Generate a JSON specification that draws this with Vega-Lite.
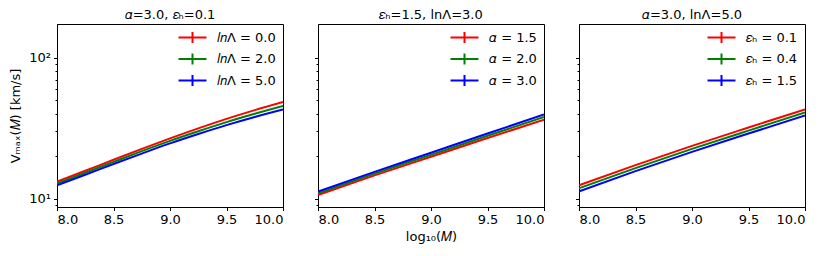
{
  "$schema": "https://vega.github.io/schema/vega-lite/v6.json",
  "background": "white",
  "padding": {"left": 9, "top": 8, "right": 5, "bottom": 5},
  "datasets": {
    "p1": [
      {"m": 8.0, "v": 13.21, "s": "𝑙𝑛Λ = 0.0"}, {"m": 8.25, "v": 15.78, "s": "𝑙𝑛Λ = 0.0"}, {"m": 8.5, "v": 18.88, "s": "𝑙𝑛Λ = 0.0"}, {"m": 8.75, "v": 22.54, "s": "𝑙𝑛Λ = 0.0"}, {"m": 9.0, "v": 26.79, "s": "𝑙𝑛Λ = 0.0"}, {"m": 9.25, "v": 31.55, "s": "𝑙𝑛Λ = 0.0"}, {"m": 9.5, "v": 36.81, "s": "𝑙𝑛Λ = 0.0"}, {"m": 9.75, "v": 42.46, "s": "𝑙𝑛Λ = 0.0"}, {"m": 10.0, "v": 48.53, "s": "𝑙𝑛Λ = 0.0"},
      {"m": 8.0, "v": 12.82, "s": "𝑙𝑛Λ = 2.0"}, {"m": 8.25, "v": 15.28, "s": "𝑙𝑛Λ = 2.0"}, {"m": 8.5, "v": 18.24, "s": "𝑙𝑛Λ = 2.0"}, {"m": 8.75, "v": 21.73, "s": "𝑙𝑛Λ = 2.0"}, {"m": 9.0, "v": 25.70, "s": "𝑙𝑛Λ = 2.0"}, {"m": 9.25, "v": 30.06, "s": "𝑙𝑛Λ = 2.0"}, {"m": 9.5, "v": 34.91, "s": "𝑙𝑛Λ = 2.0"}, {"m": 9.75, "v": 39.99, "s": "𝑙𝑛Λ = 2.0"}, {"m": 10.0, "v": 45.39, "s": "𝑙𝑛Λ = 2.0"},
      {"m": 8.0, "v": 12.45, "s": "𝑙𝑛Λ = 5.0"}, {"m": 8.25, "v": 14.79, "s": "𝑙𝑛Λ = 5.0"}, {"m": 8.5, "v": 17.62, "s": "𝑙𝑛Λ = 5.0"}, {"m": 8.75, "v": 20.89, "s": "𝑙𝑛Λ = 5.0"}, {"m": 9.0, "v": 24.66, "s": "𝑙𝑛Λ = 5.0"}, {"m": 9.25, "v": 28.77, "s": "𝑙𝑛Λ = 5.0"}, {"m": 9.5, "v": 33.27, "s": "𝑙𝑛Λ = 5.0"}, {"m": 9.75, "v": 38.02, "s": "𝑙𝑛Λ = 5.0"}, {"m": 10.0, "v": 42.96, "s": "𝑙𝑛Λ = 5.0"}
    ],
    "p2": [
      {"m": 8.0, "v": 10.62, "s": "𝛼 = 1.5"}, {"m": 8.5, "v": 14.62, "s": "𝛼 = 1.5"}, {"m": 9.0, "v": 19.82, "s": "𝛼 = 1.5"}, {"m": 9.5, "v": 26.92, "s": "𝛼 = 1.5"}, {"m": 10.0, "v": 36.39, "s": "𝛼 = 1.5"},
      {"m": 8.0, "v": 10.91, "s": "𝛼 = 2.0"}, {"m": 8.5, "v": 15.07, "s": "𝛼 = 2.0"}, {"m": 9.0, "v": 20.46, "s": "𝛼 = 2.0"}, {"m": 9.5, "v": 27.93, "s": "𝛼 = 2.0"}, {"m": 10.0, "v": 37.93, "s": "𝛼 = 2.0"},
      {"m": 8.0, "v": 11.22, "s": "𝛼 = 3.0"}, {"m": 8.5, "v": 15.49, "s": "𝛼 = 3.0"}, {"m": 9.0, "v": 21.18, "s": "𝛼 = 3.0"}, {"m": 9.5, "v": 28.97, "s": "𝛼 = 3.0"}, {"m": 10.0, "v": 39.54, "s": "𝛼 = 3.0"}
    ],
    "p3": [
      {"m": 8.0, "v": 12.45, "s": "𝜀ₕ = 0.1"}, {"m": 8.5, "v": 17.30, "s": "𝜀ₕ = 0.1"}, {"m": 9.0, "v": 23.71, "s": "𝜀ₕ = 0.1"}, {"m": 9.5, "v": 31.99, "s": "𝜀ₕ = 0.1"}, {"m": 10.0, "v": 42.96, "s": "𝜀ₕ = 0.1"},
      {"m": 8.0, "v": 11.86, "s": "𝜀ₕ = 0.4"}, {"m": 8.5, "v": 16.48, "s": "𝜀ₕ = 0.4"}, {"m": 9.0, "v": 22.54, "s": "𝜀ₕ = 0.4"}, {"m": 9.5, "v": 30.41, "s": "𝜀ₕ = 0.4"}, {"m": 10.0, "v": 40.83, "s": "𝜀ₕ = 0.4"},
      {"m": 8.0, "v": 11.27, "s": "𝜀ₕ = 1.5"}, {"m": 8.5, "v": 15.67, "s": "𝜀ₕ = 1.5"}, {"m": 9.0, "v": 21.48, "s": "𝜀ₕ = 1.5"}, {"m": 9.5, "v": 28.97, "s": "𝜀ₕ = 1.5"}, {"m": 10.0, "v": 38.90, "s": "𝜀ₕ = 1.5"}
    ]
  },
  "config": {
    "font": "DejaVu Sans",
    "view": {"stroke": "black", "strokeWidth": 1},
    "title": {"fontSize": 13, "fontWeight": "normal", "color": "black", "offset": 2},
    "axis": {
      "grid": false, "domainColor": "black", "tickColor": "black", "labelColor": "black",
      "titleColor": "black", "labelFontSize": 13, "titleFontSize": 13, "titleFontWeight": "normal",
      "tickSize": 3.5, "labelPadding": 3
    },
    "legend": {
      "orient": "top-right", "offset": 7, "labelFontSize": 13, "labelColor": "black",
      "symbolType": "M-2.8,0H2.8M0,-1.1V1.1", "symbolSize": 100, "symbolStrokeWidth": 2,
      "labelOffset": 18, "rowPadding": 2.5, "padding": 0, "symbolFillColor": "transparent"
    },
    "line": {"strokeWidth": 2, "interpolate": "monotone"}
  },
  "spacing": 29,
  "hconcat": [
    {
      "title": "𝛼=3.0, 𝜀ₕ=0.1",
      "width": 226, "height": 183,
      "data": {"name": "p1"},
      "mark": {"type": "line", "clip": true},
      "encoding": {
        "x": {"field": "m", "type": "quantitative", "scale": {"domain": [8, 10], "nice": false, "zero": false},
              "axis": {"values": [8, 8.5, 9, 9.5, 10], "format": ".1f", "title": null}},
        "y": {"field": "v", "type": "quantitative", "scale": {"type": "log", "domain": [8.73, 173.4], "nice": false},
              "axis": {"values": [9, 10, 20, 30, 40, 50, 60, 70, 80, 90, 100], "title": "Vₘₐₓ(𝑀) [km/s]",
                       "labelExpr": "datum.value == 10 ? '10¹' : datum.value == 100 ? '10²' : ''",
                       "tickSize": {"condition": {"test": "datum.value == 10 || datum.value == 100", "value": 3.5}, "value": 2},
                       "titlePadding": 6}},
        "color": {"field": "s", "type": "nominal", "title": null,
                  "scale": {"domain": ["𝑙𝑛Λ = 0.0", "𝑙𝑛Λ = 2.0", "𝑙𝑛Λ = 5.0"], "range": ["#ff0000", "#008000", "#0000ff"]}}
      }
    },
    {
      "title": "𝜀ₕ=1.5, lnΛ=3.0",
      "width": 226, "height": 183,
      "data": {"name": "p2"},
      "mark": {"type": "line", "clip": true},
      "encoding": {
        "x": {"field": "m", "type": "quantitative", "scale": {"domain": [8, 10], "nice": false, "zero": false},
              "axis": {"values": [8, 8.5, 9, 9.5, 10], "format": ".1f", "title": "log₁₀(𝑀)", "titlePadding": 4}},
        "y": {"field": "v", "type": "quantitative", "scale": {"type": "log", "domain": [8.73, 173.4], "nice": false},
              "axis": {"values": [9, 10, 20, 30, 40, 50, 60, 70, 80, 90, 100], "title": null, "labels": false,
                       "tickSize": {"condition": {"test": "datum.value == 10 || datum.value == 100", "value": 3.5}, "value": 2}}},
        "color": {"field": "s", "type": "nominal", "title": null,
                  "scale": {"domain": ["𝛼 = 1.5", "𝛼 = 2.0", "𝛼 = 3.0"], "range": ["#ff0000", "#008000", "#0000ff"]}}
      }
    },
    {
      "title": "𝛼=3.0, lnΛ=5.0",
      "width": 226, "height": 183,
      "data": {"name": "p3"},
      "mark": {"type": "line", "clip": true},
      "encoding": {
        "x": {"field": "m", "type": "quantitative", "scale": {"domain": [8, 10], "nice": false, "zero": false},
              "axis": {"values": [8, 8.5, 9, 9.5, 10], "format": ".1f", "title": null}},
        "y": {"field": "v", "type": "quantitative", "scale": {"type": "log", "domain": [8.73, 173.4], "nice": false},
              "axis": {"values": [9, 10, 20, 30, 40, 50, 60, 70, 80, 90, 100], "title": null, "labels": false,
                       "tickSize": {"condition": {"test": "datum.value == 10 || datum.value == 100", "value": 3.5}, "value": 2}}},
        "color": {"field": "s", "type": "nominal", "title": null,
                  "scale": {"domain": ["𝜀ₕ = 0.1", "𝜀ₕ = 0.4", "𝜀ₕ = 1.5"], "range": ["#ff0000", "#008000", "#0000ff"]}}
      }
    }
  ],
  "resolve": {"scale": {"color": "independent", "y": "independent"}, "legend": {"color": "independent"}}
}
